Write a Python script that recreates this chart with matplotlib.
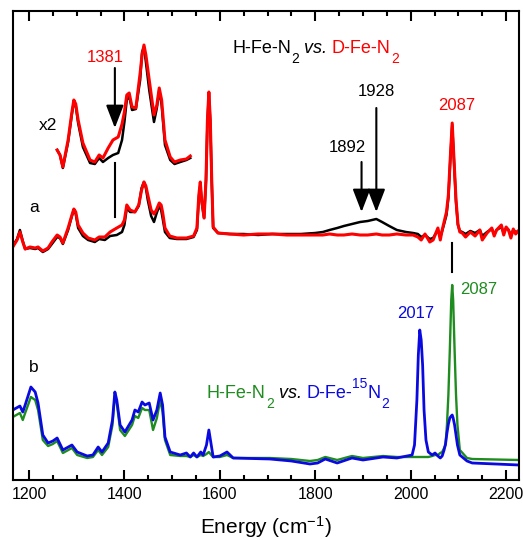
import matplotlib
matplotlib.use("Agg")
import matplotlib.pyplot as plt
from matplotlib.ticker import MultipleLocator
from matplotlib.transforms import offset_copy

plt.rcParams['font.family'] = ['Liberation Sans', 'DejaVu Sans']
plt.rcParams['mathtext.fontset'] = 'custom'
plt.rcParams['mathtext.rm'] = 'Liberation Sans'
plt.rcParams['mathtext.it'] = 'Liberation Sans:italic'

RED = '#ff0000'
GREEN = '#1f8c1f'
BLUE = '#0a0ae0'

# trace a: H-Fe-N2 (black) vs D-Fe-N2 (red), offset intensity (arb. units)
wn_a = [1166, 1175, 1181, 1187, 1192, 1202, 1213, 1219, 1229, 1240,
        1248, 1259, 1265, 1271, 1282, 1290, 1294, 1298, 1303, 1313,
        1324, 1338, 1347, 1359, 1370, 1384, 1395, 1400, 1405, 1412,
        1422, 1430, 1436, 1441, 1445, 1449, 1456, 1462, 1467, 1473,
        1477, 1480, 1485, 1495, 1510, 1530, 1545, 1552, 1556, 1559,
        1562, 1567, 1571, 1574, 1577, 1580, 1583, 1586, 1596, 1620,
        1650, 1680, 1710, 1740, 1770, 1800, 1816, 1830, 1846, 1860,
        1877, 1894, 1910, 1928, 1940, 1955, 1971, 1990, 2005, 2015,
        2022, 2030, 2040, 2047, 2052, 2057, 2062, 2066, 2070, 2075,
        2079, 2083, 2087, 2091, 2095, 2099, 2103, 2108, 2115, 2125,
        2135, 2145, 2150, 2160, 2170, 2175, 2180, 2190, 2195, 2200,
        2205, 2210, 2215, 2220, 2227]
red_a = [233, 240, 248, 238, 231, 233, 232, 233, 229, 232,
         238, 245, 243, 237, 252, 265, 271, 268, 255, 247,
         242, 240, 243, 243, 248, 252, 255, 260, 275, 270,
         268, 275, 290, 298, 294, 285, 270, 266, 270, 277,
         275, 268, 252, 244, 242, 242, 244, 252, 285, 298,
         280, 262, 300, 360, 388, 360, 300, 253, 247, 246,
         245, 246, 246, 245, 245, 245, 245, 246, 245, 245,
         246, 245, 245, 246, 245, 245, 246, 245, 245, 243,
         240, 246, 238, 240, 246, 252, 240, 250, 258, 268,
         285, 322, 357, 318, 280, 256, 248, 247, 243, 248,
         244, 250, 240, 247, 252, 244, 250, 255, 245, 253,
         250, 242, 251, 246, 250]
black_a = [234, 241, 250, 239, 231, 232, 231, 232, 228, 231,
           236, 243, 242, 236, 250, 264, 270, 266, 252, 244,
           240, 238, 241, 240, 244, 245, 248, 255, 272, 268,
           268, 274, 292, 298, 292, 280, 264, 258, 266, 274,
           270, 262, 248, 242, 241, 241, 243, 250, 282, 296,
           278, 262, 300, 358, 387, 358, 298, 252, 247, 246,
           246, 245, 246, 246, 246, 247, 248, 250, 252, 254,
           256, 258, 259, 261, 258, 254, 250, 248, 247, 246,
           243, 245, 241, 242, 246, 250, 243, 249, 256, 265,
           282, 320, 355, 316, 278, 255, 249, 248, 246, 249,
           247, 250, 244, 248, 251, 246, 250, 253, 247, 252,
           250, 245, 250, 248, 249]

# x2 expansion of trace a
wn_x2 = [1259, 1265, 1271, 1282, 1290, 1294, 1298, 1303, 1313, 1328,
         1338, 1347, 1355, 1366, 1376, 1387, 1395, 1400, 1405, 1410,
         1416, 1424, 1433, 1437, 1441, 1445, 1452, 1462, 1468, 1473,
         1478, 1485, 1496, 1505, 1517, 1530, 1538]
red_x2 = [330, 325, 313, 340, 368, 380, 376, 360, 337, 320,
          318, 325, 322, 332, 340, 343, 356, 368, 385, 387,
          373, 372, 407, 425, 435, 425, 400, 365, 375, 392,
          380, 340, 323, 318, 320, 321, 324]
black_x2 = [330, 325, 312, 338, 366, 378, 374, 357, 333, 317,
            316, 322, 318, 322, 325, 327, 340, 358, 380, 384,
            370, 371, 400, 428, 433, 418, 390, 358, 372, 390,
            375, 335, 320, 316, 318, 320, 322]

# trace b: H-Fe-N2 (green) vs D-Fe-15N2 (blue)
wn_b = [1166, 1181, 1187, 1192, 1204, 1213, 1219, 1229, 1240, 1250,
        1259, 1271, 1290, 1301, 1322, 1334, 1345, 1353, 1366, 1375,
        1380, 1384, 1391, 1401, 1416, 1422, 1429, 1437, 1443, 1452,
        1460, 1468, 1475, 1480, 1485, 1496, 1517, 1530, 1538, 1545,
        1552, 1560, 1565, 1572, 1577, 1582, 1586, 1600, 1615, 1628,
        1705, 1750, 1789, 1805, 1821, 1846, 1877, 1900, 1942, 1971,
        2003, 2008, 2013, 2016, 2019, 2022, 2025, 2028, 2032, 2037,
        2045, 2051, 2057, 2062, 2066, 2070, 2073, 2076, 2079, 2082,
        2085, 2087, 2089, 2092, 2095, 2098, 2103, 2118, 2129, 2227]
blue_b = [70, 74, 68, 75, 93, 88, 77, 45, 37, 39,
          42, 30, 35, 28, 24, 25, 33, 28, 37, 60,
          88, 80, 55, 48, 60, 70, 68, 78, 75, 77,
          60, 70, 87, 75, 43, 28, 25, 27, 23, 27,
          23, 28, 25, 35, 50, 35, 23, 24, 28, 22,
          21, 19, 16, 17, 21, 17, 22, 20, 23, 22,
          25, 35, 80, 125, 150, 140, 115, 70, 40, 28,
          25, 27, 24, 22, 24, 30, 36, 47, 56, 62,
          64, 65, 62, 55, 45, 35, 25, 19, 17, 15]
green_b = [63, 67, 60, 67, 83, 80, 70, 40, 34, 36,
           39, 27, 32, 25, 22, 23, 30, 25, 33, 55,
           85, 77, 50, 44, 55, 64, 62, 72, 70, 70,
           50, 62, 80, 68, 40, 25, 24, 24, 23, 25,
           23, 25, 24, 26, 28, 25, 23, 23, 25, 22,
           22, 21, 19, 20, 23, 20, 24, 22, 24, 23,
           23, 23, 23, 23, 23, 23, 23, 23, 23, 23,
           24, 25, 25, 27, 28, 32, 35, 55, 85, 130,
           180, 195, 180, 130, 85, 55, 30, 22, 21, 20]

fig = plt.figure(figsize=(5.23, 5.4), dpi=100)
ax = fig.add_axes([13 / 523, 60 / 540, 506 / 523, 469 / 540])

ax.plot(wn_a, black_a, color='black', lw=1.8)
ax.plot(wn_a, red_a, color=RED, lw=2.2)
ax.plot(wn_x2, black_x2, color='black', lw=1.8)
ax.plot(wn_x2, red_x2, color=RED, lw=2.2)
ax.plot(wn_b, green_b, color=GREEN, lw=1.7)
ax.plot(wn_b, blue_b, color=BLUE, lw=2.0)

# marker lines
ax.plot([1380, 1380], [263, 317], color='black', lw=1.5)
ax.plot([2087, 2087], [208, 237], color='black', lw=1.5)


def arrow(x, y0, y1):
    ax.annotate('', xy=(x, y1), xytext=(x, y0),
                arrowprops=dict(arrowstyle='-|>,head_length=0.7,head_width=0.27',
                                color='black', lw=1.5, mutation_scale=20,
                                shrinkA=0, shrinkB=0))


arrow(1380, 412, 352)
arrow(1897, 318, 268)
arrow(1928, 372, 268)

ax.text(1359, 423, '1381', color=RED, fontsize=12, ha='center', va='center')
ax.text(1240, 355, 'x2', fontsize=12.5, ha='center', va='center')
ax.text(1210, 273, 'a', fontsize=12.5, ha='center', va='center')
ax.text(1929, 388, '1928', fontsize=12, ha='center', va='center')
ax.text(1867, 333, '1892', fontsize=12, ha='center', va='center')
ax.text(2097, 375, '2087', color=RED, fontsize=12, ha='center', va='center')
ax.text(2143, 190, '2087', color=GREEN, fontsize=12, ha='center', va='center')
ax.text(2011, 167, '2017', color=BLUE, fontsize=12, ha='center', va='center')
ax.text(1210, 112, 'b', fontsize=12.5, ha='center', va='center')

# sample labels, written piece by piece (subscripts set low like the original)
renderer = fig.canvas.get_renderer()


def label(x, y, parts):
    dx = 0
    for s, color, size, dy, style in parts:
        tr = offset_copy(ax.transData, fig=fig, x=dx, y=dy, units='points')
        t = ax.text(x, y, s, color=color, fontsize=size, style=style,
                    va='baseline', ha='left', transform=tr)
        dx += t.get_window_extent(renderer).width * 72 / fig.dpi


SUB = -7
SUP = 7.5
label(1626, 427, [('H-Fe-N', 'black', 13, 0, 'normal'), ('2', 'black', 10, SUB, 'normal'),
                  (' vs. ', 'black', 13, 0, 'italic'),
                  ('D-Fe-N', RED, 13, 0, 'normal'), ('2', RED, 10, SUB, 'normal')])
label(1573, 82, [('H-Fe-N', GREEN, 13, 0, 'normal'), ('2', GREEN, 10, SUB, 'normal'),
                 (' vs. ', 'black', 13, 0, 'italic'),
                 ('D-Fe-', BLUE, 13, 0, 'normal'), ('15', BLUE, 10, SUP, 'normal'),
                 ('N', BLUE, 13, 0, 'normal'), ('2', BLUE, 10, SUB, 'normal')])

ax.set_xlim(1166.5, 2227)
ax.set_ylim(0, 469)
ax.set_yticks([])
ax.xaxis.set_major_locator(MultipleLocator(200))
ax.xaxis.set_minor_locator(MultipleLocator(50))
ax.tick_params(axis='x', which='both', direction='in', top=True, width=1.5, labelsize=11.5, pad=5)
ax.tick_params(axis='x', which='major', length=7)
ax.tick_params(axis='x', which='minor', length=3.5)
for s in ax.spines.values():
    s.set_linewidth(1.5)
ax.set_xlabel('Energy (cm$^{-1}$)', fontsize=15, labelpad=9)

fig.savefig('out.png', dpi=100)
